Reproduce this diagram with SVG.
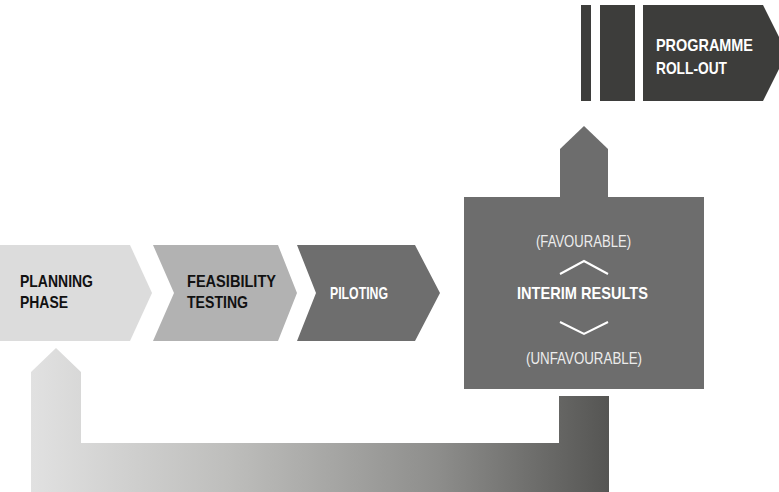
<svg xmlns="http://www.w3.org/2000/svg" width="779" height="492" viewBox="0 0 779 492">
<defs>
<linearGradient id="loop" gradientUnits="userSpaceOnUse" x1="31" y1="0" x2="609" y2="0">
<stop offset="0" stop-color="#e1e1e1"/>
<stop offset="0.35" stop-color="#bdbdbb"/>
<stop offset="0.7" stop-color="#8e8e8c"/>
<stop offset="1" stop-color="#555553"/>
</linearGradient>
<style>
.b{font-family:"Liberation Sans",Arial,sans-serif;font-weight:bold;font-size:17px}
.dk{fill:#111}
.wt{fill:#fff}
.l{font-family:"Liberation Sans",Arial,sans-serif;font-size:16px;fill:#ececec}
.car{fill:none;stroke:#fff;stroke-width:2}
</style>
</defs>
<g id="connectors">
<path d="M31,492 L31,372 L56,348 L81,372 L81,443 L559,443 L559,396 L609,396 L609,492 Z" fill="url(#loop)"/>
<path d="M560,197 L560,149 L584,126 L608,149 L608,197 Z" fill="#6d6d6d"/>
</g>
<g id="planning">
<path d="M0,245 L130,245 L152,293 L130,341 L0,341 Z" fill="#dcdcdc"/>
<text class="b dk" x="20" y="287" textLength="73" lengthAdjust="spacingAndGlyphs">PLANNING</text>
<text class="b dk" x="20" y="308" textLength="48" lengthAdjust="spacingAndGlyphs">PHASE</text>
</g>
<g id="feasibility">
<path d="M153,245 L278,245 L297,293 L278,341 L153,341 L174,293 Z" fill="#b2b2b2"/>
<text class="b dk" x="187" y="287" textLength="89" lengthAdjust="spacingAndGlyphs">FEASIBILITY</text>
<text class="b dk" x="187" y="308" textLength="61" lengthAdjust="spacingAndGlyphs">TESTING</text>
</g>
<g id="piloting">
<path d="M297,245 L415,245 L440,293 L415,341 L297,341 L316,293 Z" fill="#6e6e6e"/>
<text class="b wt" x="330" y="299" textLength="58" lengthAdjust="spacingAndGlyphs">PILOTING</text>
</g>
<g id="interim">
<rect x="464" y="197" width="240" height="192" fill="#6d6d6d"/>
<text class="l" x="536" y="247" textLength="95" lengthAdjust="spacingAndGlyphs">(FAVOURABLE)</text>
<path class="car" d="M560,274 L584,261 L608,274"/>
<text class="b wt" x="517" y="299" textLength="131" lengthAdjust="spacingAndGlyphs">INTERIM RESULTS</text>
<path class="car" d="M560,322 L584,334 L608,322"/>
<text class="l" x="526" y="364" textLength="116" lengthAdjust="spacingAndGlyphs">(UNFAVOURABLE)</text>
</g>
<g id="rollout">
<rect x="581" y="5" width="10" height="96" fill="#3d3d3b"/>
<rect x="600" y="5" width="35" height="96" fill="#3d3d3b"/>
<path d="M643,5 L763,5 L787,53 L763,101 L643,101 Z" fill="#3d3d3b"/>
<text class="b wt" x="656" y="51" textLength="97" lengthAdjust="spacingAndGlyphs">PROGRAMME</text>
<text class="b wt" x="656" y="74" textLength="71" lengthAdjust="spacingAndGlyphs">ROLL-OUT</text>
</g>
</svg>
